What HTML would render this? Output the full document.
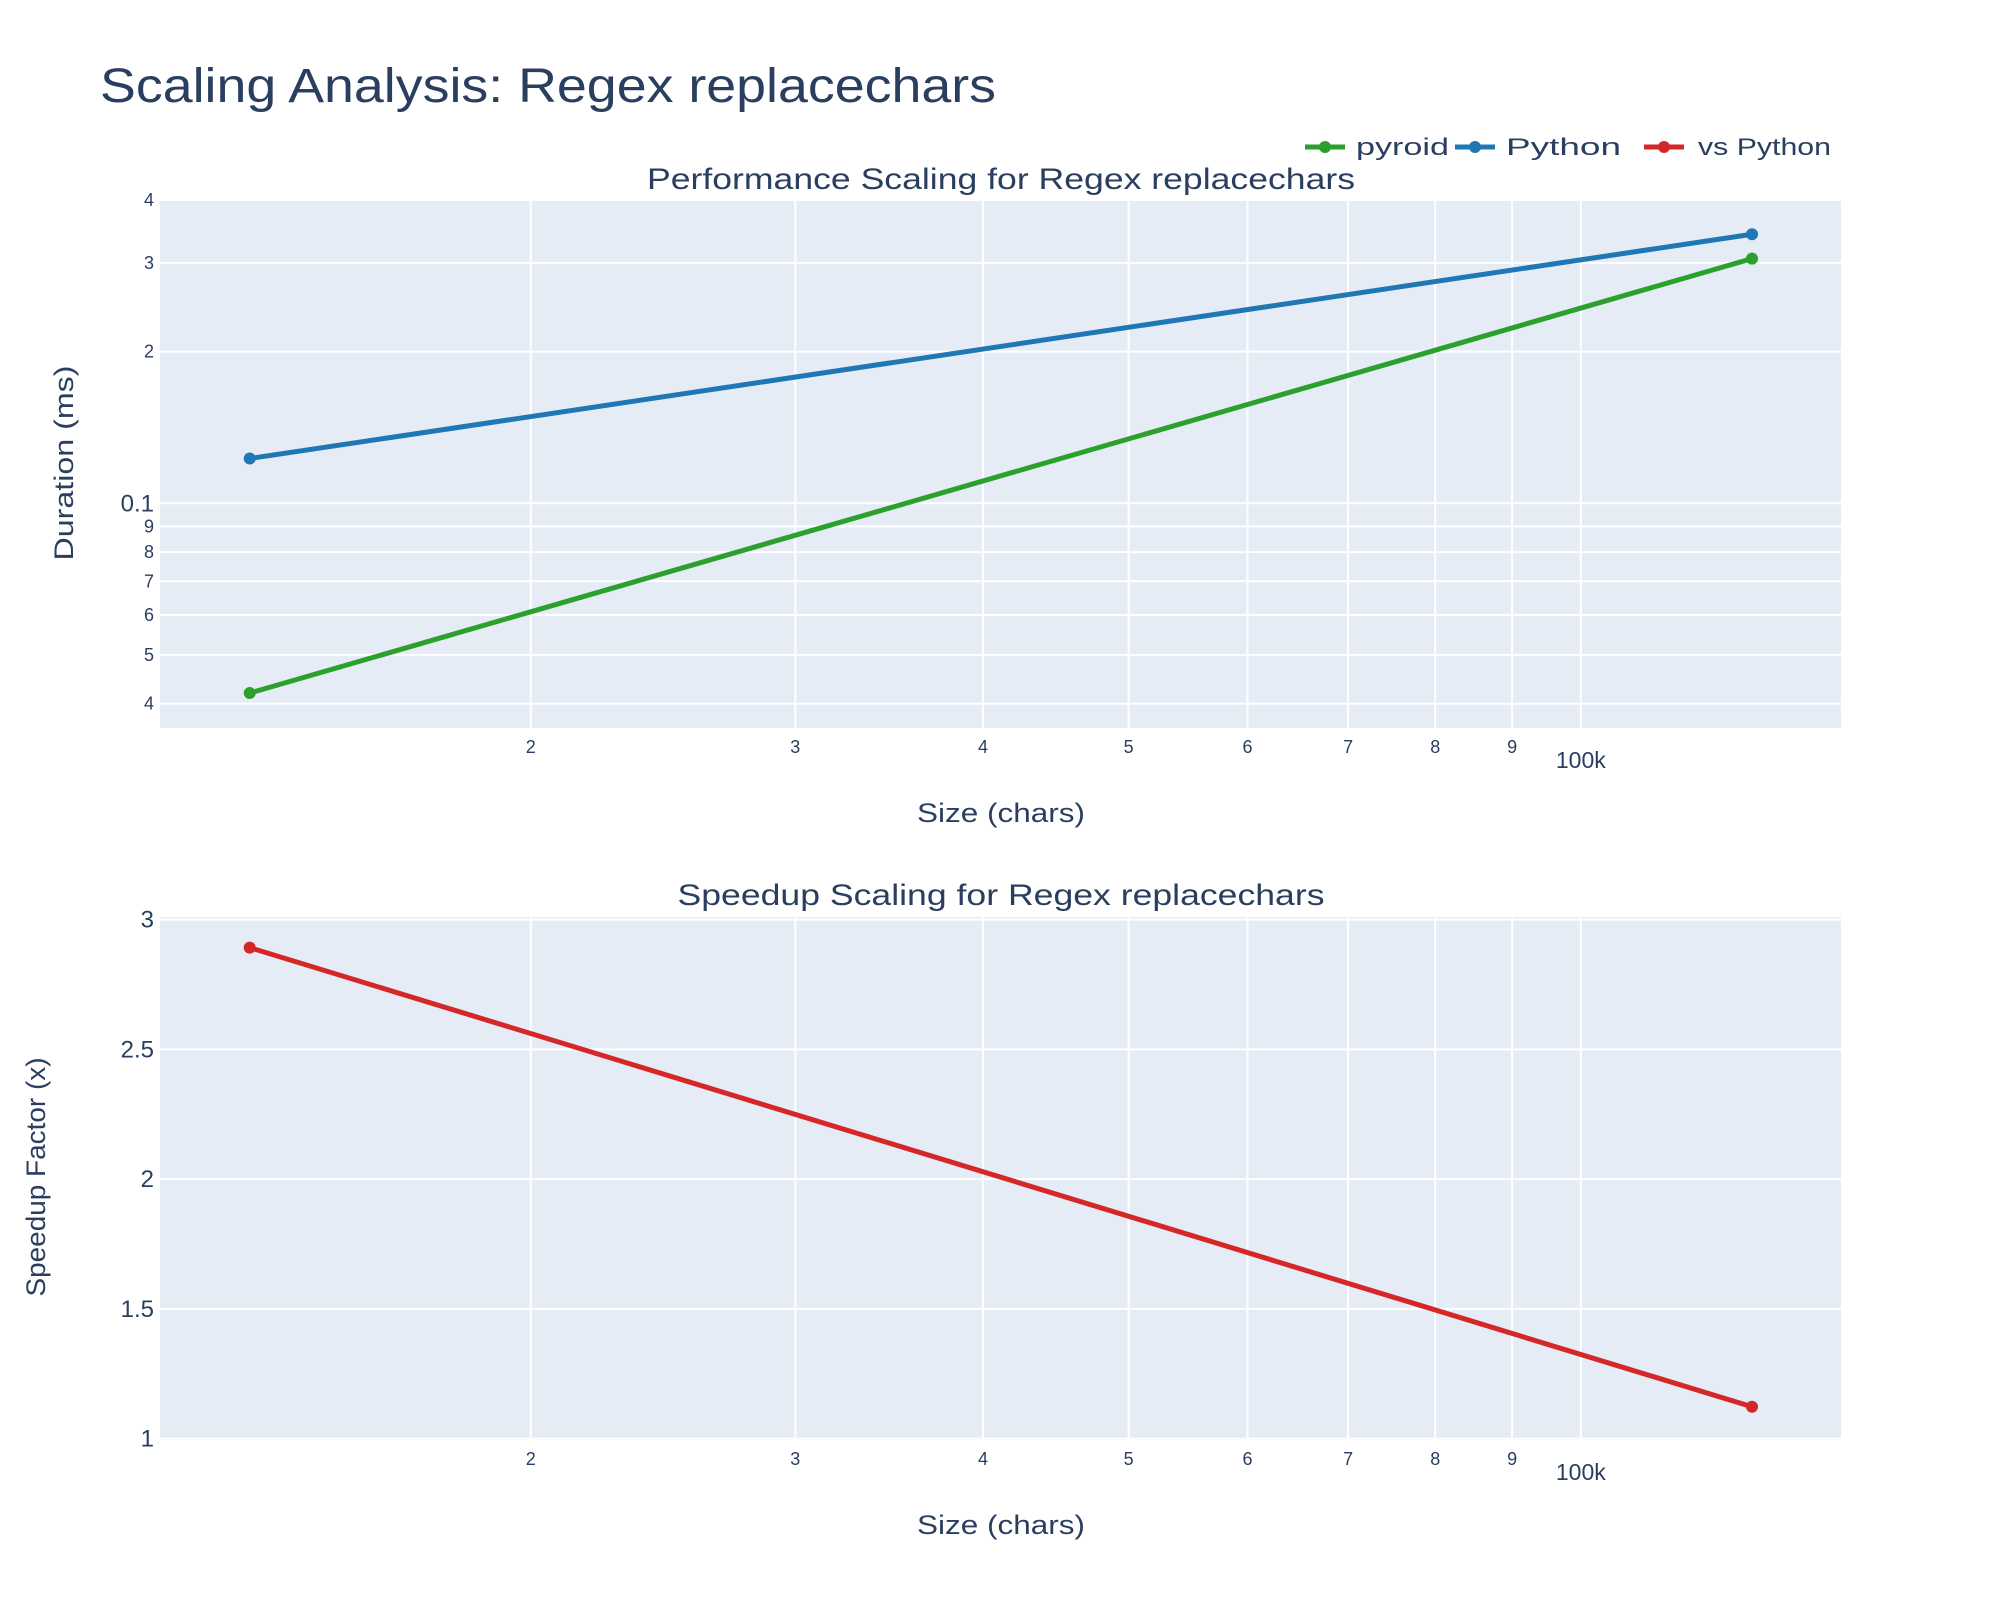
<!DOCTYPE html>
<html><head><meta charset="utf-8"><style>
html,body{margin:0;padding:0;background:#fff;}
svg{display:block;font-family:"Liberation Sans",Arial,sans-serif;}
</style></head><body>
<svg id="chart" width="2000" height="1600" xmlns="http://www.w3.org/2000/svg">
<text x="100" y="102" font-size="48" fill="#2a3f5f" textLength="896" lengthAdjust="spacingAndGlyphs">Scaling Analysis: Regex replacechars</text>
<text x="1001" y="189" font-size="30" fill="#2a3f5f" text-anchor="middle" textLength="708" lengthAdjust="spacingAndGlyphs">Performance Scaling for Regex replacechars</text>
<text x="1001" y="905" font-size="30" fill="#2a3f5f" text-anchor="middle" textLength="647" lengthAdjust="spacingAndGlyphs">Speedup Scaling for Regex replacechars</text>
<g id="legend"></g>
<g id="p1"></g>
<g id="p2"></g>
<text x="1001" y="822" font-size="27" fill="#2a3f5f" text-anchor="middle" textLength="168" lengthAdjust="spacingAndGlyphs">Size (chars)</text>
<text x="1001" y="1534" font-size="27" fill="#2a3f5f" text-anchor="middle" textLength="168" lengthAdjust="spacingAndGlyphs">Size (chars)</text>
<text transform="translate(73,463) rotate(-90)" font-size="27" fill="#2a3f5f" text-anchor="middle" textLength="195" lengthAdjust="spacingAndGlyphs">Duration (ms)</text>
<text transform="translate(45,1177) rotate(-90)" font-size="27" fill="#2a3f5f" text-anchor="middle" textLength="239" lengthAdjust="spacingAndGlyphs">Speedup Factor (x)</text>
</svg>
<script>
const sizes = [13000, 130000];
const pyroidMs = [0.042, 0.306];
const pythonMs = [0.1227, 0.342];
const speedup = [2.892, 1.123];
const xTickVals = [20000,30000,40000,50000,60000,70000,80000,90000,100000];
const xTickLabels = ["2","3","4","5","6","7","8","9","100k"];
const y1TickVals = [0.04,0.05,0.06,0.07,0.08,0.09,0.1,0.2,0.3,0.4];
const y1TickLabels = ["4","5","6","7","8","9","0.1","2","3","4"];
const y2TickVals = [1,1.5,2,2.5,3];
const y2TickLabels = ["1","1.5","2","2.5","3"];

const NS="http://www.w3.org/2000/svg";
function mk(tag,attrs,parent){const e=document.createElementNS(NS,tag);for(const k in attrs)e.setAttribute(k,attrs[k]);parent.appendChild(e);return e;}
const L=160,R=1841;
const xMin=Math.log10(11330),xMax=Math.log10(149000);
function xS(v){return L+(Math.log10(v)-xMin)/(xMax-xMin)*(R-L);}
const T1=200,B1=728,y1Min=Math.log10(0.0358),y1Max=Math.log10(0.4);
function y1S(v){return B1-(Math.log10(v)-y1Min)/(y1Max-y1Min)*(B1-T1);}
const T2=917,B2=1440,y2Min=0.995,y2Max=3.01;
function y2S(v){return B2-(v-y2Min)/(y2Max-y2Min)*(B2-T2);}

function drawPlot(g,T,B,yS,yVals,yLabels,series){
  const bg=mk('rect',{x:L,y:T,width:R-L,height:B-T,fill:'#e5ecf6'},g);
  
  
  xTickVals.forEach((v,i)=>{
    const x=xS(v);
    const ln=mk('line',{x1:x,x2:x,y1:T,y2:B,stroke:'#fff','stroke-width':2},g);
    
    
    const big=xTickLabels[i]==="100k";
    const t=mk('text',{x:x,y:big?B+40:B+25,'font-size':big?23:18,fill:'#2a3f5f','text-anchor':'middle'},g);
    t.textContent=xTickLabels[i];
    
    
  });
  yVals.forEach((v,i)=>{
    const y=yS(v);
    const ln=mk('line',{x1:L,x2:R,y1:y,y2:y,stroke:'#fff','stroke-width':2},g);
    
    
    const big=yLabels[i].length>1||yS===y2S;
    const t=mk('text',{x:L-6,y:y+(big?8:6),'font-size':big?24:18,fill:'#2a3f5f','text-anchor':'end'},g);
    t.textContent=yLabels[i];
    
    
  });
  series.forEach(s=>{
    const pts=sizes.map((x,i)=>xS(x)+','+yS(s.vals[i])).join(' ');
    const pl=mk('polyline',{points:pts,fill:'none',stroke:s.color,'stroke-width':5},g);
    
    
    sizes.forEach((x,i)=>{
      const c=mk('circle',{cx:xS(x),cy:yS(s.vals[i]),r:6,fill:s.color},g);
      
      
    });
  });
}
drawPlot(document.getElementById('p1'),T1,B1,y1S,y1TickVals,y1TickLabels,[
  {name:'pyroid',vals:pyroidMs,color:'#2ca02c'},
  {name:'python',vals:pythonMs,color:'#1f77b4'}]);
drawPlot(document.getElementById('p2'),T2,B2,y2S,y2TickVals,y2TickLabels,[
  {name:'vs-python',vals:speedup,color:'#d62728'}]);

const lg=document.getElementById('legend');
[['pyroid','#2ca02c',1305,1356,93],['Python','#1f77b4',1455,1506,115],['vs Python','#d62728',1644,1698,133]].forEach(([n,c,x,tx,tl])=>{
  const g=mk('g',{},lg);
  
  
  mk('line',{x1:x,x2:x+40,y1:147,y2:147,stroke:c,'stroke-width':5},g);
  mk('circle',{cx:x+20,cy:147,r:6,fill:c},g);
  const t=mk('text',{x:tx,y:155,'font-size':24,fill:'#2a3f5f',textLength:tl,lengthAdjust:'spacingAndGlyphs'},g);
  t.textContent=n;
});
</script>
</body></html>
